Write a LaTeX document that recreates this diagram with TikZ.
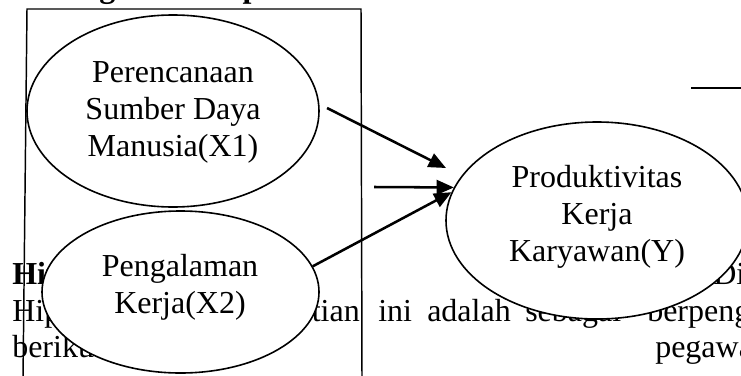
\documentclass[tikz,border=0pt]{standalone}
\usepackage{fontspec}
\setmainfont{Liberation Serif}
\usetikzlibrary{shapes.geometric,arrows.meta}
\tikzset{
  ell/.style={draw=black, line width=1.2pt, fill=white, ellipse, inner sep=0pt},
  lbl/.style={align=center, inner sep=0pt, font=\fontsize{24}{27.75}\selectfont},
  para/.style={anchor=base west, inner sep=0pt, font=\fontsize{24}{27.75}\selectfont},
  parab/.style={para, font=\fontsize{24}{27.75}\selectfont\bfseries},
  arr/.style={line width=1.9pt, -{Triangle[length=13pt,width=11pt]}},
  frame/.style={line width=1.1pt}
}
\begin{document}
\begin{tikzpicture}[x=0.75pt,y=-0.75pt]
\useasboundingbox (0,0) rectangle (741,375);
\clip (0,0) rectangle (741,375);
% background document text
\node[parab] (h0) at (12,-3) {Kerangka Konseptual};
\node[parab] (h1) at (12,284) {Hipotesis};
\node[para] (d1) at (713,284) {Di};
\node[para] (w1) at (12,321) {Hipotesis};
\node[para, anchor=base east] (w2) at (360,321) {penelitian};
\node[para] (w3) at (378,321) {ini};
\node[para] (w4) at (427,321) {adalah};
\node[para] (w5) at (525,321) {sebagai};
\node[para] (w6) at (647,321) {berpeng};
\node[para] (w7) at (12,357) {berikut};
\node[para] (w8) at (655,357) {pegawa};
% frame lines
\coordinate (fbl) at (23,380);
\coordinate (ftl) at (27,9);
\coordinate (ftr) at (361,9);
\coordinate (fbr) at (362,380);
\draw[frame] (fbl) -- (ftl) -- (ftr) -- (fbr);
\coordinate (ls) at (691,88);
\coordinate (le) at (745,88);
\draw[frame] (ls) -- (le);
% ellipses
\node[ell, minimum width=219pt, minimum height=144pt] (x1) at (173,111) {};
\node[ell, minimum width=207.75pt, minimum height=121.5pt] (x2) at (180.5,292) {};
\node[ell, minimum width=226.5pt, minimum height=147.75pt] (y) at (597,220.5) {};
\node[lbl] (x1t) at (173,112) {Perencanaan\\Sumber Daya\\Manusia(X1)};
\node[lbl] (x2t) at (180,287) {Pengalaman\\Kerja(X2)};
\node[lbl] (yt) at (597,217) {Produktivitas\\Kerja\\Karyawan(Y)};
% arrows
\coordinate (a1s) at (327,108);
\coordinate (a1e) at (446,168);
\coordinate (a2s) at (374,187);
\draw[arr] (a1s) -- (a1e);
\draw[arr] (a2s) -- (y.167);
\draw[arr] (x2.11) -- (y.169);
\end{tikzpicture}
\end{document}
